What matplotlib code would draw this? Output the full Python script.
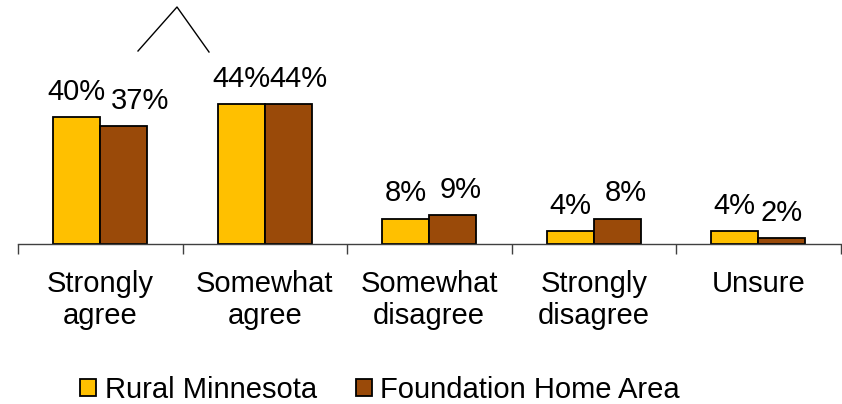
import matplotlib
matplotlib.use('Agg')
import matplotlib.pyplot as plt
from matplotlib.lines import Line2D
import numpy as np

plt.rcParams['font.family'] = ['Liberation Sans', 'DejaVu Sans']

categories = ['Strongly\nagree', 'Somewhat\nagree', 'Somewhat\ndisagree',
              'Strongly\ndisagree', 'Unsure']
rural = [40, 44, 8, 4, 4]
foundation = [37, 44, 9, 8, 2]
series_names = ['Rural Minnesota', 'Foundation Home Area']

yellow = '#FFC000'
brown = '#9A4A09'

fig = plt.figure(figsize=(8.42, 4.04), dpi=100)
ax = fig.add_axes([18 / 842, 160 / 404, 822.5 / 842, 191 / 404])

x = np.arange(len(categories))
width = 0.286
b1 = ax.bar(x - width / 2, rural, width, color=yellow, edgecolor='black', linewidth=1.3,
            label=series_names[0])
b2 = ax.bar(x + width / 2, foundation, width, color=brown, edgecolor='black', linewidth=1.3,
            label=series_names[1])

# brown labels get pushed right a little where they would collide
nudge = [[0, 0, 0, 0, 0], [12, 7, 6, 6, 0]]
for k, (bars, vals) in enumerate(((b1, rural), (b2, foundation))):
    for i, (rect, v) in enumerate(zip(bars, vals)):
        ax.annotate('%d%%' % v, (rect.get_x() + rect.get_width() / 2, v),
                    xytext=(nudge[k][i], 8), textcoords='offset points',
                    ha='center', va='bottom', fontsize=21)

ax.set_xlim(-0.5, len(categories) - 0.5)
ax.set_ylim(0, 60)
ax.set_xticks(x)
ax.set_xticklabels(categories, fontsize=21, linespacing=1.18)
ax.set_xticks(np.arange(len(categories) + 1) - 0.5, minor=True)
ax.tick_params(axis='x', which='major', length=0, pad=19)
ax.tick_params(axis='x', which='minor', length=7, width=1, color='#404040', direction='out')
ax.set_yticks([])
for s in ('left', 'right', 'top'):
    ax.spines[s].set_visible(False)
ax.spines['bottom'].set_color('#404040')
ax.spines['bottom'].set_linewidth(1)

fig.legend(loc='center', bbox_to_anchor=(380 / 842, 1 - 390 / 404), ncol=2, frameon=False,
           fontsize=21, handlelength=0.55, handleheight=0.55, handletextpad=0.28,
           columnspacing=1.34, borderpad=0)

# stray caret drawn above the first groups
fig.add_artist(Line2D([138 / 842, 177 / 842, 209 / 842],
                      [1 - 51 / 404, 1 - 7 / 404, 1 - 52 / 404],
                      color='black', linewidth=1))

fig.savefig('out.png', dpi=100)
